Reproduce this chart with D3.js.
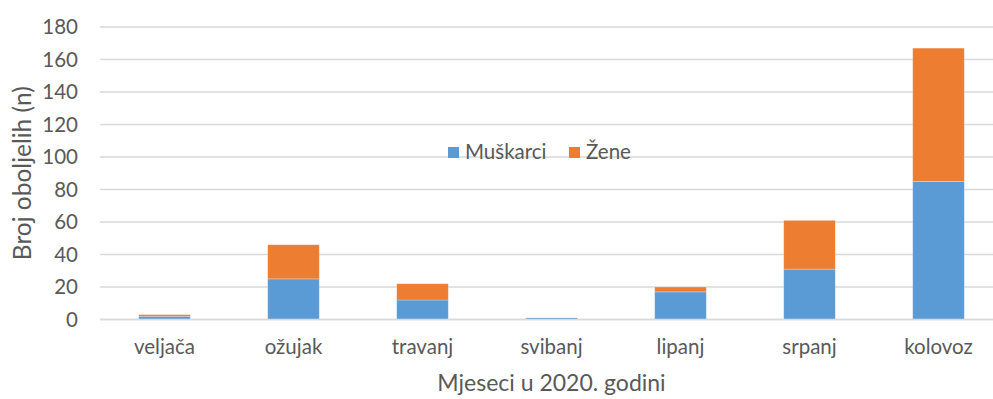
<!DOCTYPE html>
<html>
<head>
<meta charset="utf-8">
<script src="https://cdn.jsdelivr.net/npm/d3@7"></script>
<style>
  html, body { margin: 0; padding: 0; background: #fff; }
  svg { display: block; font-family: Lato, "Open Sans", sans-serif; }
</style>
</head>
<body>
<svg id="chart" width="993" height="399"></svg>
<script>
// Oboljeli po mjesecima 2020., po spolu
const months = ["veljača", "ožujak", "travanj", "svibanj", "lipanj", "srpanj", "kolovoz"];
const muskarci = [2, 25, 12, 1, 17, 31, 85];
const zene = [1, 21, 10, 0, 3, 30, 82];
const seriesNames = ["Muškarci", "Žene"];
const seriesColors = ["#5b9bd5", "#ed7d31"];
const yTicks = [0, 20, 40, 60, 80, 100, 120, 140, 160, 180];

const svg = d3.select("#chart");
// The plot area runs a little past the right edge of the canvas.
const plot = { left: 100, right: 1003, top: 27, bottom: 319.5 };

const x = d3.scaleBand().domain(months).range([plot.left, plot.right]).paddingInner(0.6).paddingOuter(0.3);
const y = d3.scaleLinear().domain([0, 180]).range([plot.bottom, plot.top]);

const textColor = "#595959";
const gridColor = "#d9d9d9";
const font = "Lato, 'Open Sans', sans-serif";

// Gridlines
svg.append("g")
  .selectAll("line")
  .data(yTicks)
  .join("line")
  .attr("x1", plot.left).attr("x2", plot.right)
  .attr("y1", d => y(d)).attr("y2", d => y(d))
  .attr("stroke", gridColor).attr("stroke-width", 1.5);

// Y axis labels
const yAxis = d3.axisLeft(y).tickValues(yTicks).tickSize(0).tickPadding(0);
svg.append("g")
  .attr("transform", `translate(78,0)`)
  .call(yAxis)
  .call(g => g.select(".domain").remove())
  .call(g => g.selectAll("text")
    .attr("fill", textColor).attr("font-size", 20.5)
    .attr("font-family", font));

// Stacked bars
const rows = months.map((m, i) => ({ month: m, Muškarci: muskarci[i], Žene: zene[i] }));
const stacked = d3.stack().keys(seriesNames)(rows);

svg.append("g")
  .selectAll("g")
  .data(stacked)
  .join("g")
  .attr("fill", (d, i) => seriesColors[i])
  .selectAll("rect")
  .data(d => d)
  .join("rect")
  .attr("x", d => x(d.data.month))
  .attr("width", x.bandwidth())
  .attr("y", d => y(d[1]))
  .attr("height", d => Math.max(0, y(d[0]) - y(d[1])))
  .attr("stroke", "#ffffff").attr("stroke-opacity", 0.35).attr("stroke-width", 0.75);

// X axis baseline
svg.append("line")
  .attr("x1", plot.left).attr("x2", plot.right)
  .attr("y1", y(0)).attr("y2", y(0))
  .attr("stroke", gridColor).attr("stroke-width", 1.5);

// X axis labels
const xAxis = d3.axisBottom(x).tickSize(0).tickPadding(0);
svg.append("g")
  .attr("transform", `translate(0,${y(0) + 20})`)
  .call(xAxis)
  .call(g => g.select(".domain").remove())
  .call(g => g.selectAll("text")
    .attr("fill", textColor).attr("font-size", 20.5)
    .attr("font-family", font));

// Axis titles, centred on the plot area
svg.append("text")
  .attr("x", (plot.left + plot.right) / 2).attr("y", 391)
  .attr("text-anchor", "middle")
  .attr("fill", textColor).attr("font-size", 23)
  .attr("font-family", font)
  .text("Mjeseci u 2020. godini");

svg.append("text")
  .attr("transform", `translate(31,${(plot.top + plot.bottom) / 2}) rotate(-90)`)
  .attr("text-anchor", "middle")
  .attr("fill", textColor).attr("font-size", 24.5)
  .attr("font-family", font)
  .text("Broj oboljelih (n)");

// Legend
const legend = svg.append("g");
const legendX = [448, 569];
seriesNames.forEach((name, i) => {
  const g = legend.append("g").attr("transform", `translate(${legendX[i]},147)`);
  g.append("rect").attr("width", 11).attr("height", 11).attr("fill", seriesColors[i]);
  g.append("text").attr("x", 17).attr("y", 12)
    .attr("fill", textColor).attr("font-size", 20.5)
    .attr("font-family", font)
    .text(name);
});
</script>
</body>
</html>
